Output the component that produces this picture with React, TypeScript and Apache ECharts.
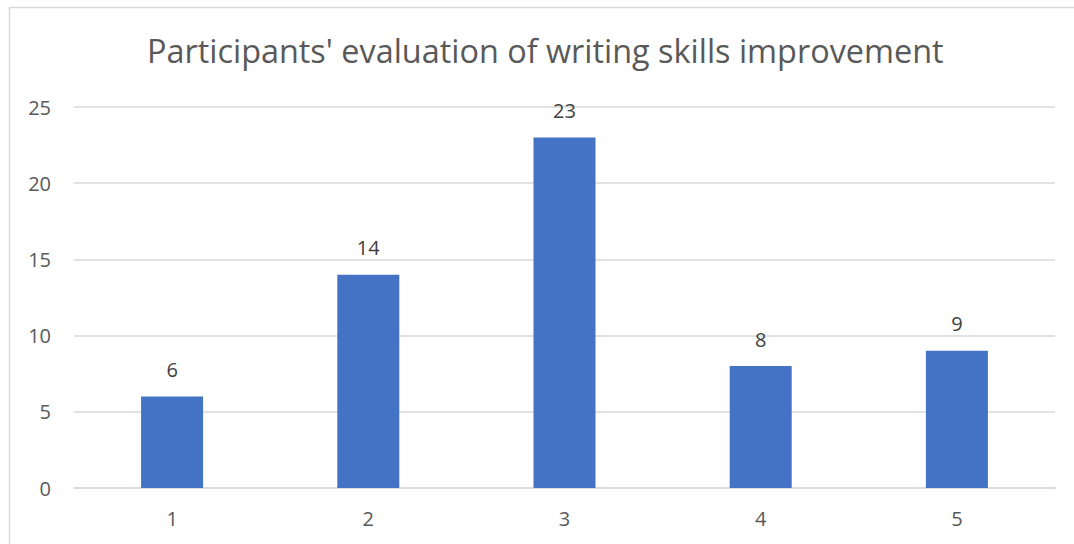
import React, { useEffect, useRef } from "react";
import * as echarts from "echarts";

const categories = ["1", "2", "3", "4", "5"];
const values = [6, 14, 23, 8, 9];
const titleText = "Participants' evaluation of writing skills improvement";

export default function App() {
  const ref = useRef<HTMLDivElement>(null);
  useEffect(() => {
    const chart = echarts.init(ref.current!, null, { renderer: "svg" });
    chart.setOption({
      animation: false,
      backgroundColor: "#ffffff",
      title: {
        text: titleText,
        left: 142,
        top: 29,
        textStyle: {
          fontFamily: "Open Sans",
          fontWeight: "normal",
          fontSize: 32.4,
          color: "#595959",
        },
      },
      graphic: [
        {
          type: "rect",
          shape: { x: 9.5, y: 7.5, width: 1200, height: 700 },
          style: { fill: "none", stroke: "#d9d9d9", lineWidth: 1.5 },
          silent: true,
        },
      ],
      grid: { left: 74, right: 19, top: 107, bottom: 56 },
      xAxis: {
        type: "category",
        data: categories,
        axisLine: { show: true, lineStyle: { color: "#d9d9d9", width: 1.5 } },
        axisTick: { show: false },
        axisLabel: {
          color: "#595959",
          fontSize: 20,
          fontFamily: "Open Sans",
          margin: 20,
        },
      },
      yAxis: {
        type: "value",
        min: 0,
        max: 25,
        interval: 5,
        axisLine: { show: false },
        axisTick: { show: false },
        splitLine: { lineStyle: { color: "#d9d9d9", width: 1.5 } },
        axisLabel: {
          color: "#595959",
          fontSize: 20,
          fontFamily: "Open Sans",
          margin: 23,
        },
      },
      series: [
        {
          type: "bar",
          data: values,
          barWidth: 62,
          itemStyle: { color: "#4472c4" },
          label: {
            show: true,
            position: "top",
            distance: 17,
            color: "#404040",
            fontSize: 20,
            fontFamily: "Open Sans",
          },
        },
      ],
    });
    return () => chart.dispose();
  }, []);
  return (
    <div
      ref={ref}
      style={{ position: "fixed", left: 0, top: 0, width: 1074, height: 544 }}
    />
  );
}
